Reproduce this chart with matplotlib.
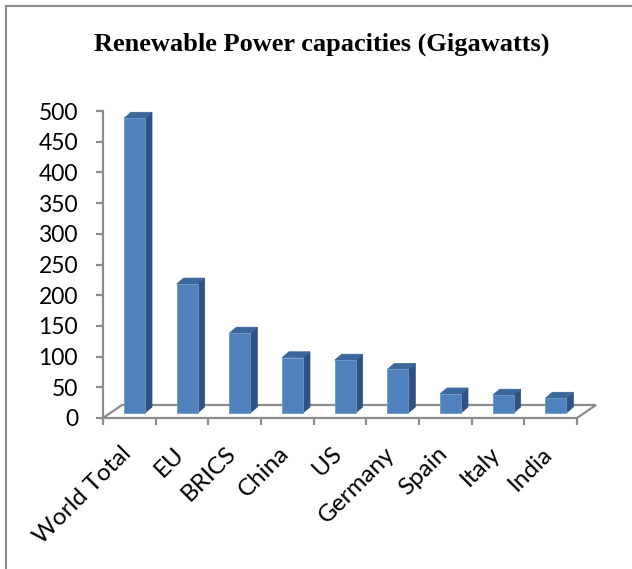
import matplotlib.pyplot as plt
from matplotlib.patches import Polygon, Rectangle
from matplotlib.lines import Line2D
from matplotlib.transforms import ScaledTranslation

categories = ['World Total', 'EU', 'BRICS', 'China', 'US', 'Germany', 'Spain', 'Italy', 'India']
capacity_gw = [480, 210, 130, 90, 86, 71, 31, 29, 24]
yticks = [0, 50, 100, 150, 200, 250, 300, 350, 400, 450, 500]

W, H = 632, 569
fig = plt.figure(figsize=(W / 100, H / 100), dpi=100)
fig.patch.set_facecolor('white')

# plot area: front-left corner of the floor and the value axis
x0, x1 = 103, 577
y0, y1 = 418, 111
ax = fig.add_axes([x0 / W, 1 - y0 / H, (x1 - x0) / W, (y0 - y1) / H])
n = len(categories)
ax.set_xlim(0, n)
ax.set_ylim(0, 500)
for s in ax.spines.values():
    s.set_visible(False)
ax.patch.set_visible(False)

# pixel -> data conversion
px = n / (x1 - x0)
py = 500 / (y0 - y1)

grey = '#8c8c8c'
front = '#4f81bd'
side = '#2f5282'
top = '#3c679b'

# floor outline (3-D depth offset)
dx, dy = 19 * px, 13 * py
floor = [(0, 0), (n, 0), (n + dx, dy), (dx, dy), (0, 0)]
ax.add_line(Line2D([p[0] for p in floor], [p[1] for p in floor], color=grey,
                   lw=1.6, clip_on=False, zorder=1, solid_joinstyle='miter'))
ax.add_line(Line2D([0, 0], [0, 500], color=grey, lw=1.6, clip_on=False, zorder=1))

# bars as front/side/top faces
bw = 21 * px
boff = 21 * px
base = 5 * py
ddx, ddy = 7 * px, 6 * py
for i, v in enumerate(capacity_gw):
    L = i + boff
    R = L + bw
    T = base + v
    ax.add_patch(Polygon([(R, base), (R + ddx, base + ddy), (R + ddx, T + ddy), (R, T)],
                         closed=True, facecolor=side, edgecolor=side, lw=0.5,
                         clip_on=False, zorder=2))
    ax.add_patch(Polygon([(L, T), (R, T), (R + ddx, T + ddy), (L + ddx, T + ddy)],
                         closed=True, facecolor=top, edgecolor=top, lw=0.5,
                         clip_on=False, zorder=2))
    ax.add_patch(Rectangle((L, base), bw, v, facecolor=front, edgecolor='#6e98cc',
                           lw=0.6, clip_on=False, zorder=3))

# value axis ticks
ax.set_yticks(yticks)
ax.tick_params(axis='y', length=5, width=1.6, color=grey, pad=13, labelsize=16.5)
for lab in ax.get_yticklabels():
    lab.set_fontfamily('Lato')

# category boundary ticks, labels drawn as rotated text
ax.set_xticks(range(n + 1))
ax.set_xticklabels([])
ax.tick_params(axis='x', length=5, width=1.6, color=grey, direction='out')
shift = ScaledTranslation(-9 / 100, -25 / 100, fig.dpi_scale_trans)
for i, name in enumerate(categories):
    ax.text(i + 0.5, 0, name, transform=ax.transData + shift,
            rotation=45, rotation_mode='anchor', ha='right', va='top',
            fontsize=17.5, family='Lato', clip_on=False)

fig.text(322 / W, 1 - 44 / H, 'Renewable Power capacities (Gigawatts)',
         ha='center', va='center', fontsize=19, fontweight='bold',
         family='Liberation Serif')

# chart frame
fig.add_artist(Line2D([6 / W, 6 / W], [0, 1 - 6 / H], color=grey, lw=1.5))
fig.add_artist(Line2D([6 / W, 1], [1 - 6 / H, 1 - 6 / H], color=grey, lw=1.5))

fig.savefig('out.png', dpi=100)
